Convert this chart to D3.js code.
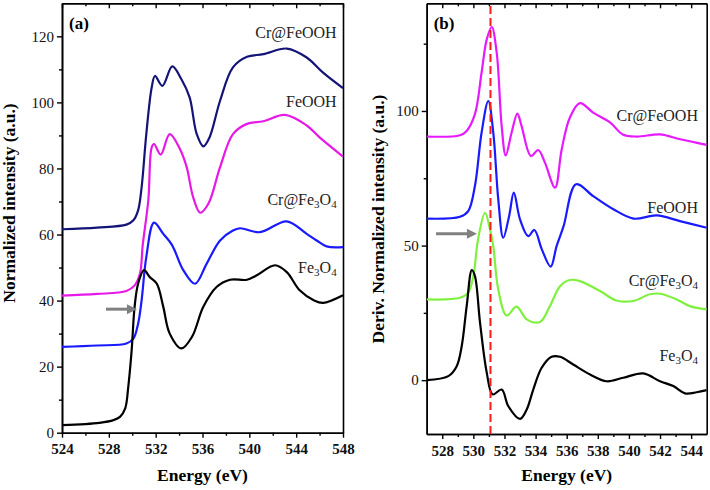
<!DOCTYPE html>
<html>
<head>
<meta charset="utf-8">
<script src="https://cdn.jsdelivr.net/npm/d3@7"></script>
<style>
  body { margin: 0; background: #fff; }
</style>
</head>
<body>
<svg id="chart" width="710" height="490"></svg>
<script>
// ---- panel (a): normalized XAS intensity ----
var aEnergyCrFeOOH = [524, 527, 529.5, 530.1, 530.5, 530.8, 531.2, 531.66, 531.94, 532.57, 533.42, 534.2, 534.9, 535.5, 536.07, 536.6, 537.5, 538.6, 539.8, 541.2, 543.2, 544.9, 546.3, 548];
var aCrFeOOH = [61.6, 62.1, 63, 64.3, 67.3, 74.3, 90.4, 104.5, 108, 105, 110.9, 107, 101.5, 90.5, 86.7, 89.4, 100.5, 110.6, 113.8, 114.6, 116.3, 113.6, 109, 104.3];

var aEnergyFeOOH = [524, 527, 529.5, 530.2, 530.66, 530.9, 531.37, 531.66, 531.86, 532.43, 533.2, 534.07, 534.65, 535.2, 535.8, 536.5, 537.5, 538.6, 539.8, 541.2, 543.04, 544.9, 546, 548];
var aFeOOH = [41.5, 42, 42.9, 44.6, 48.2, 57, 70.3, 86.4, 87.4, 84.2, 90.4, 85.9, 80.4, 71.3, 66.6, 69.3, 80.4, 90.4, 93.5, 94.3, 96.2, 93, 89.4, 83.6];

var aEnergyCrFe3O4 = [524, 527, 529.5, 530.1, 530.5, 530.8, 531.2, 531.86, 532.65, 533.4, 534.36, 535.36, 536.36, 537.5, 538.6, 539.2, 540.9, 543.2, 544.9, 545.75, 546.6, 548];
var aCrFe3O4 = [26, 26.4, 27, 28.5, 33, 40.1, 53.2, 63.6, 60.2, 56.8, 49.2, 45.1, 51.2, 58.2, 61.2, 61.9, 60.7, 64, 60.2, 58.2, 56.4, 56.2];

var aEnergyFe3O4 = [524, 527.2, 528.4, 528.95, 529.4, 529.66, 529.95, 530.2, 530.5, 531, 531.5, 532.1, 532.65, 533.2, 534.2, 535.1, 536.07, 537.2, 538.35, 539.8, 540.6, 542.2, 543.2, 544.3, 545.5, 546.3, 548];
var aFe3O4 = [2.3, 3, 3.8, 4.8, 7.4, 13.9, 25, 38.1, 45.1, 49.2, 47.1, 45.1, 38.1, 30, 25.5, 29, 38.1, 44.1, 46.3, 46.3, 47.6, 50.7, 48.6, 43.1, 40.1, 39.3, 41.6];

// ---- panel (b): derivative of normalized intensity ----
var bEnergyCrFeOOH = [527, 529.14, 529.57, 530.1, 530.53, 530.86, 531.18, 531.5, 531.82, 532.08, 532.46, 532.83, 533.1, 533.7, 534.17, 534.6, 535.25, 535.68, 536.2, 536.85, 537.7, 538.8, 539.6, 540.5, 542, 543.3, 545];
var bCrFeOOH = [90.5, 91, 92.6, 98.8, 114.3, 126.6, 131.2, 121.7, 94.4, 83.5, 92, 99, 94.4, 83.3, 85.5, 80.8, 71.5, 85.8, 97.5, 102.9, 99.4, 95.7, 91.3, 90.5, 91.3, 89.5, 87.4];

var bEnergyFeOOH = [527, 529.14, 529.67, 530.1, 530.53, 530.96, 531.28, 531.6, 531.92, 532.3, 532.6, 533, 533.53, 533.92, 534.4, 534.97, 535.35, 535.8, 536.6, 537.7, 539, 540.3, 541.78, 543.28, 545];
var bFeOOH = [60, 60.7, 62.8, 72.1, 92, 103.7, 92, 67.2, 52.9, 61, 69.7, 59.7, 53.5, 55.8, 48.6, 42.2, 49.8, 57.2, 72.8, 68.4, 63.5, 60, 61.2, 59.1, 56.6];

var bEnergyCrFe3O4 = [527, 529.14, 529.67, 530, 530.3, 530.75, 531.07, 531.28, 531.6, 532.14, 532.78, 533.43, 534.28, 534.92, 535.57, 536.2, 536.85, 538.14, 539.2, 540.28, 541.35, 542, 543.07, 543.92, 545];
var bCrFe3O4 = [30, 30.6, 32.5, 38.7, 52.3, 62.2, 56, 49.8, 33.7, 24, 27.3, 22.6, 21.6, 27.5, 34.9, 37.2, 36.8, 33.1, 29.6, 29.4, 31.9, 32.1, 30, 27.5, 26.3];

var bEnergyFe3O4 = [527, 528.39, 528.93, 529.25, 529.57, 529.9, 530.1, 530.43, 530.86, 531.24, 531.82, 532.25, 533, 533.43, 533.85, 534.39, 535.03, 535.57, 536.42, 537.5, 538.57, 539.64, 540.92, 542, 542.85, 543.6, 544.35, 545];
var bFe3O4 = [0, 1.5, 5.2, 12.6, 27.5, 40.9, 38.7, 21.3, 2.8, -5.3, -3.5, -9.7, -14.4, -10.9, -3.5, 4.6, 8.7, 8.7, 5.8, 2.1, -0.4, 0.9, 2.5, -0.4, -2.2, -4.9, -4.5, -3.7];

// tick labels
var aXTicks = [524, 528, 532, 536, 540, 544, 548];
var aYTicks = [0, 20, 40, 60, 80, 100, 120];
var bXTicks = [528, 530, 532, 534, 536, 538, 540, 542, 544];
var bYTicks = [0, 50, 100];
var edgeLine = 531.1; // red dashed marker in (b)

var serif = "'Liberation Serif'";
var svg = d3.select("#chart");

function zip(xs, ys) {
    return xs.map(function (x, i) { return [x, ys[i]]; });
}

// draws one panel: frame, ticks, curves, labels
function drawPanel(p) {
    var x = d3.scaleLinear().domain(p.xDomain).range([p.left, p.right]);
    var y = d3.scaleLinear().domain(p.yDomain).range([p.bottom, p.top]);
    var g = svg.append("g");

    g.append("clipPath").attr("id", p.id + "clip")
        .append("rect")
        .attr("x", p.left).attr("y", p.top)
        .attr("width", p.right - p.left).attr("height", p.bottom - p.top);

    // minor ticks first
    g.append("g").attr("transform", "translate(0," + p.bottom + ")")
        .call(d3.axisBottom(x).tickValues(p.xMinor).tickSize(3).tickFormat("").tickSizeOuter(0));
    g.append("g").attr("transform", "translate(" + p.left + ",0)")
        .call(d3.axisLeft(y).tickValues(p.yMinor).tickSize(3).tickFormat("").tickSizeOuter(0));
    g.append("g").attr("transform", "translate(0," + p.top + ")")
        .call(d3.axisTop(x).tickValues(p.xMinor).tickSize(-3).tickFormat("").tickSizeOuter(0));

    var xAxis = g.append("g").attr("transform", "translate(0," + p.bottom + ")")
        .call(d3.axisBottom(x).tickValues(p.xTicks).tickSize(5).tickPadding(6).tickSizeOuter(0));
    xAxis.selectAll("text").style("font-family", serif).style("font-size", "15px").style("font-weight", "bold");

    var yAxis = g.append("g").attr("transform", "translate(" + p.left + ",0)")
        .call(d3.axisLeft(y).tickValues(p.yTicks).tickSize(5).tickPadding(3).tickSizeOuter(0));
    yAxis.selectAll("text").style("font-family", serif).style("font-size", "15px");

    g.append("g").attr("transform", "translate(0," + p.top + ")")
        .call(d3.axisTop(x).tickValues(p.xTicks).tickSize(-5).tickFormat("").tickSizeOuter(0));
    g.append("g").attr("transform", "translate(" + p.right + ",0)")
        .call(d3.axisRight(y).tickValues([]).tickSizeOuter(0));

    g.selectAll(".domain").attr("stroke", "#000").attr("stroke-width", 1.6);
    g.selectAll(".tick line").attr("stroke-width", 1.4);
    g.selectAll(".tick text").attr("fill", "#111");

    var line = d3.line()
        .x(function (d) { return x(d[0]); })
        .y(function (d) { return y(d[1]); })
        .curve(d3.curveCatmullRom.alpha(0.5));

    g.append("g").attr("clip-path", "url(#" + p.id + "clip)")
        .selectAll("path")
        .data(p.series)
        .enter()
        .append("path")
        .attr("d", function (s) { return line(zip(s.x, s.y)); })
        .attr("fill", "none")
        .attr("stroke", function (s) { return s.color; })
        .attr("stroke-width", 2.2)
        .attr("stroke-linejoin", "round");

    if (p.vline) {
        g.append("line")
            .attr("x1", x(p.vline)).attr("x2", x(p.vline))
            .attr("y1", y(p.yDomain[0])).attr("y2", y(p.yDomain[1]))
            .attr("stroke", "#ff1a1a").attr("stroke-width", 2)
            .attr("stroke-dasharray", "8,4");
    }

    // series labels, right aligned
    p.series.forEach(function (s) {
        var t = g.append("text")
            .attr("x", x(s.lx)).attr("y", y(s.ly))
            .attr("text-anchor", "end")
            .style("font-family", serif)
            .style("font-size", "16px")
            .attr("fill", "#222");
        s.label.forEach(function (part) {
            var ts = t.append("tspan").text(part[0]);
            if (part[1]) ts.attr("baseline-shift", "-25%").style("font-size", "11px");
        });
    });

    // arrow
    var ax1 = x(p.arrow[0]), ax2 = x(p.arrow[1]), ay = y(p.arrow[2]);
    g.append("line")
        .attr("x1", ax1).attr("x2", ax2 - 8)
        .attr("y1", ay).attr("y2", ay)
        .attr("stroke", "#808080").attr("stroke-width", 3);
    g.append("path")
        .attr("d", "M" + ax2 + "," + ay + "L" + (ax2 - 10) + "," + (ay - 5) + "L" + (ax2 - 10) + "," + (ay + 5) + "Z")
        .attr("fill", "#808080");

    // panel tag
    g.append("text")
        .attr("x", p.left + 7).attr("y", p.top + 26)
        .style("font-family", serif)
        .style("font-size", "17px").style("font-weight", "bold")
        .text(p.tag);

    // axis titles
    g.append("text")
        .attr("x", (p.left + p.right) / 2).attr("y", 481)
        .attr("text-anchor", "middle")
        .style("font-family", serif)
        .style("font-size", "17.5px").style("font-weight", "bold")
        .text("Energy (eV)");
    g.append("text")
        .attr("transform", "translate(" + p.yTitleX + "," + p.yTitleY + ")rotate(-90)")
        .attr("text-anchor", "middle")
        .style("font-family", serif)
        .style("font-size", "17.5px").style("font-weight", "bold")
        .text(p.yTitle);
}

drawPanel({
    id: "a", tag: "(a)",
    left: 62, right: 343, top: 3.3, bottom: 432.7,
    xDomain: [524, 548], yDomain: [0, 130],
    xTicks: aXTicks, yTicks: aYTicks,
    xMinor: d3.range(526, 548, 4), yMinor: d3.range(10, 130, 20),
    yTitle: "Normalized intensity (a.u.)", yTitleX: 15, yTitleY: 203,
    arrow: [527.76, 530.4, 37.4],
    series: [
        { x: aEnergyCrFeOOH, y: aCrFeOOH, color: "#141478", label: [["Cr@FeOOH"]], lx: 547.46, ly: 119.5 },
        { x: aEnergyFeOOH, y: aFeOOH, color: "#e619e6", label: [["FeOOH"]], lx: 547.46, ly: 98.5 },
        { x: aEnergyCrFe3O4, y: aCrFe3O4, color: "#1a1aff", label: [["Cr@Fe"], ["3", 1], ["O"], ["4", 1]], lx: 547.46, ly: 68.8 },
        { x: aEnergyFe3O4, y: aFe3O4, color: "#000000", label: [["Fe"], ["3", 1], ["O"], ["4", 1]], lx: 547.46, ly: 48.2 }
    ]
});

drawPanel({
    id: "b", tag: "(b)",
    left: 426.7, right: 706.7, top: 3.3, bottom: 434,
    xDomain: [527, 545], yDomain: [-20, 140],
    xTicks: bXTicks, yTicks: bYTicks,
    xMinor: d3.range(529, 545, 2), yMinor: [25, 75, 125],
    yTitle: "Deriv. Normalized intensity (a.u.)", yTitleX: 384, yTitleY: 219,
    arrow: [527.6, 530.23, 54.4],
    vline: edgeLine,
    series: [
        { x: bEnergyCrFeOOH, y: bCrFeOOH, color: "#e619ff", label: [["Cr@FeOOH"]], lx: 544.44, ly: 96.3 },
        { x: bEnergyFeOOH, y: bFeOOH, color: "#1a1aff", label: [["FeOOH"]], lx: 544.44, ly: 62.2 },
        { x: bEnergyCrFe3O4, y: bCrFe3O4, color: "#80f040", label: [["Cr@Fe"], ["3", 1], ["O"], ["4", 1]], lx: 544.44, ly: 34.9 },
        { x: bEnergyFe3O4, y: bFe3O4, color: "#000000", label: [["Fe"], ["3", 1], ["O"], ["4", 1]], lx: 544.44, ly: 7.1 }
    ]
});
</script>
</body>
</html>
